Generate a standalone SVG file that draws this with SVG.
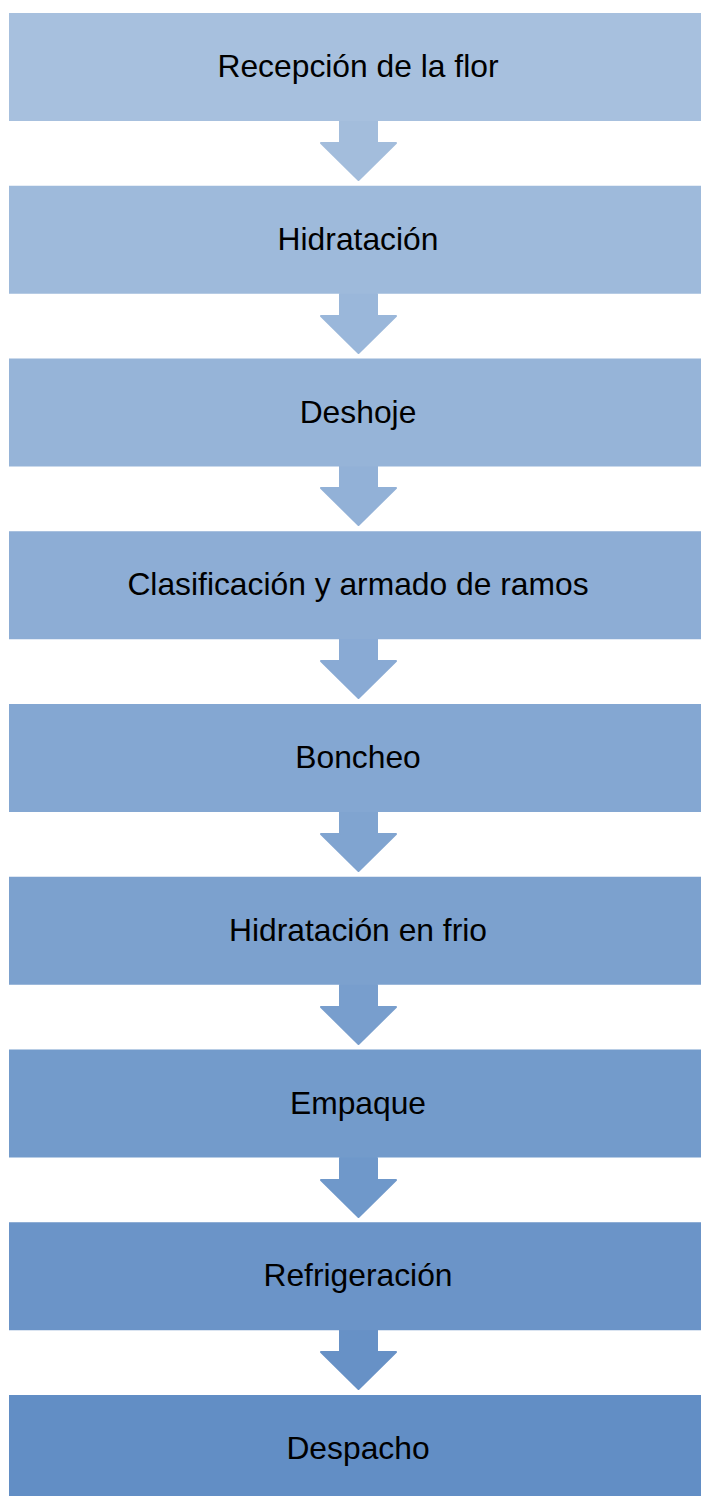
<svg xmlns="http://www.w3.org/2000/svg" width="701" height="1496" viewBox="0 0 701 1496">
<style>
text{font-family:"Liberation Sans",Arial,sans-serif;font-size:31.8px;fill:#000;text-anchor:middle}
.a{stroke-width:2;stroke-linejoin:round}
</style>
<rect width="701" height="1496" fill="#fff"/>
<g id="connectors">
<path class="a" d="M340,121 L377,121 L377,143 L396,143 L358.5,180 L321,143 L340,143 Z" fill="#A3BDDC" stroke="#A3BDDC"/>
<path class="a" d="M340,294 L377,294 L377,316 L396,316 L358.5,353 L321,316 L340,316 Z" fill="#9AB7DA" stroke="#9AB7DA"/>
<path class="a" d="M340,466 L377,466 L377,488 L396,488 L358.5,525 L321,488 L340,488 Z" fill="#92B1D7" stroke="#92B1D7"/>
<path class="a" d="M340,639 L377,639 L377,661 L396,661 L358.5,698 L321,661 L340,661 Z" fill="#89AAD4" stroke="#89AAD4"/>
<path class="a" d="M340,812 L377,812 L377,834 L396,834 L358.5,871 L321,834 L340,834 Z" fill="#80A4D0" stroke="#80A4D0"/>
<path class="a" d="M340,985 L377,985 L377,1007 L396,1007 L358.5,1044 L321,1007 L340,1007 Z" fill="#789ECD" stroke="#789ECD"/>
<path class="a" d="M340,1158 L377,1158 L377,1180 L396,1180 L358.5,1217 L321,1180 L340,1180 Z" fill="#6F98CA" stroke="#6F98CA"/>
<path class="a" d="M340,1330 L377,1330 L377,1352 L396,1352 L358.5,1389 L321,1352 L340,1352 Z" fill="#6791C6" stroke="#6791C6"/>
</g>
<g id="n1"><rect x="9" y="13" width="698" height="108" fill="#A7C0DE"/><text x="358" y="77">Recepción de la flor</text></g>
<g id="n2"><rect x="9" y="185.75" width="698" height="108" fill="#9EBADB"/><text x="358" y="249.75">Hidratación</text></g>
<g id="n3"><rect x="9" y="358.5" width="698" height="108" fill="#96B4D8"/><text x="358" y="422.5">Deshoje</text></g>
<g id="n4"><rect x="9" y="531.25" width="698" height="108" fill="#8DADD5"/><text x="358" y="595.25">Clasificación y armado de ramos</text></g>
<g id="n5"><rect x="9" y="704" width="698" height="108" fill="#84A7D2"/><text x="358" y="768">Boncheo</text></g>
<g id="n6"><rect x="9" y="876.75" width="698" height="108" fill="#7CA1CE"/><text x="358" y="940.75">Hidratación en frio</text></g>
<g id="n7"><rect x="9" y="1049.5" width="698" height="108" fill="#739BCB"/><text x="358" y="1113.5">Empaque</text></g>
<g id="n8"><rect x="9" y="1222.25" width="698" height="108" fill="#6B94C8"/><text x="358" y="1286.25">Refrigeración</text></g>
<g id="n9"><rect x="9" y="1395" width="698" height="108" fill="#628EC5"/><text x="358" y="1459">Despacho</text></g>
</svg>
